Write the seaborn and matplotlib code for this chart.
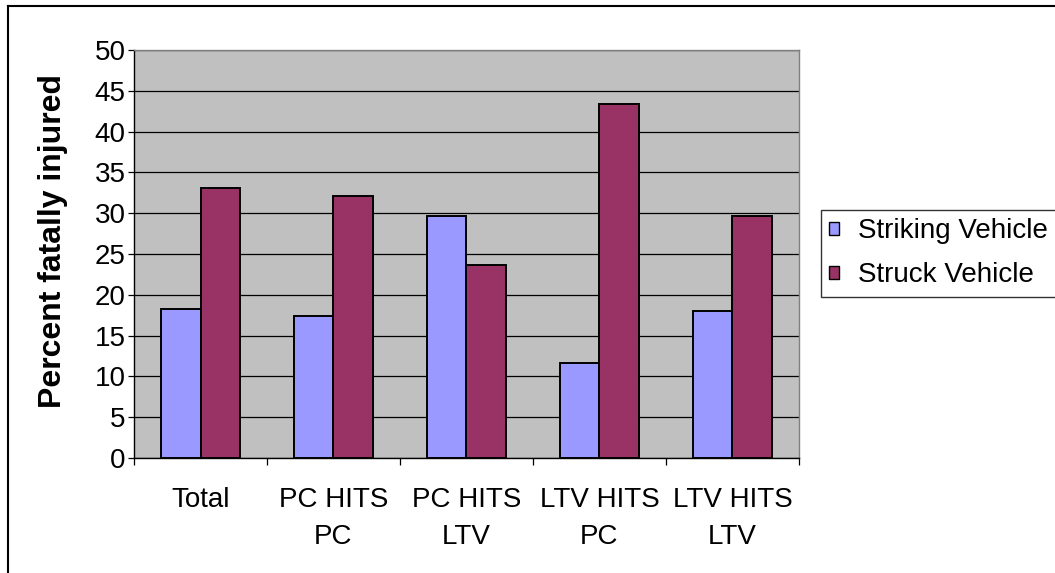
import pandas as pd
import matplotlib.pyplot as plt
import seaborn as sns
from matplotlib.lines import Line2D
from matplotlib.ticker import FixedLocator

categories = ["Total", "PC HITS\nPC", "PC HITS\nLTV", "LTV HITS\nPC", "LTV HITS\nLTV"]
striking = [18.3, 17.4, 29.6, 11.7, 18.0]
struck = [33.1, 32.1, 23.7, 43.4, 29.6]
series = ["Striking Vehicle", "Struck Vehicle"]
colors = ["#9999FF", "#993366"]
yticks = list(range(0, 51, 5))


def main():
    plt.rcParams['font.family'] = ['Liberation Sans', 'DejaVu Sans']
    plt.rcParams['font.size'] = 20

    df = pd.DataFrame({
        'category': categories * 2,
        'percent': striking + struck,
        'vehicle': [series[0]] * len(categories) + [series[1]] * len(categories),
    })

    fig = plt.figure(figsize=(10.55, 5.73), dpi=100)
    ax = fig.add_axes([134 / 1055, 1 - 458 / 573, 665 / 1055, 408 / 573])
    ax.set_facecolor('#C0C0C0')

    sns.barplot(data=df, x='category', y='percent', hue='vehicle',
                palette=colors, saturation=1, width=0.6, gap=0,
                edgecolor='black', linewidth=1.4, ax=ax, zorder=3)

    # Excel-style grid and axes
    ax.set_ylim(0, 50)
    ax.set_xlim(-0.5, len(categories) - 0.5)
    ax.set_yticks(yticks)
    ax.yaxis.grid(True, color='black', linewidth=0.9, zorder=1)
    ax.set_axisbelow(True)
    ax.tick_params(axis='y', length=4, width=0.9, pad=2, direction='out')
    ax.tick_params(axis='x', which='major', length=0, pad=21)
    ax.xaxis.set_minor_locator(FixedLocator([i - 0.5 for i in range(len(categories) + 1)]))
    ax.tick_params(axis='x', which='minor', length=5, width=0.9, color='black')
    for lab in ax.get_xticklabels():
        lab.set_linespacing(1.55)

    ax.spines['left'].set_color('black')
    ax.spines['bottom'].set_color('black')
    ax.spines['top'].set_color('#808080')
    ax.spines['right'].set_color('#808080')
    for s in ax.spines.values():
        s.set_linewidth(1.0)

    ax.set_xlabel("")
    ax.set_ylabel("Percent fatally injured", fontweight='bold', fontsize=23)
    ax.yaxis.set_label_coords(-0.1, 0.532)

    handles, labels = ax.get_legend_handles_labels()
    ax.get_legend().remove()
    leg = fig.legend(handles, labels, loc='upper left',
                     bbox_to_anchor=(821 / 1055, 1 - 210 / 573),
                     frameon=True, fancybox=False, edgecolor='black',
                     handlelength=0.33, handleheight=0.33, handletextpad=0.7,
                     borderpad=0.3, labelspacing=0.65, borderaxespad=0)
    leg.get_frame().set_linewidth(1.0)
    for h in leg.legend_handles:
        h.set_linewidth(1.0)

    # outer chart border
    fig.add_artist(Line2D([8 / 1055, 8 / 1055], [0, 1 - 6 / 573],
                          transform=fig.transFigure, color='black', linewidth=1.5))
    fig.add_artist(Line2D([8 / 1055, 1], [1 - 6 / 573, 1 - 6 / 573],
                          transform=fig.transFigure, color='black', linewidth=1.5))

    fig.savefig("out.png", dpi=100)
    plt.close(fig)


if __name__ == "__main__":
    main()
